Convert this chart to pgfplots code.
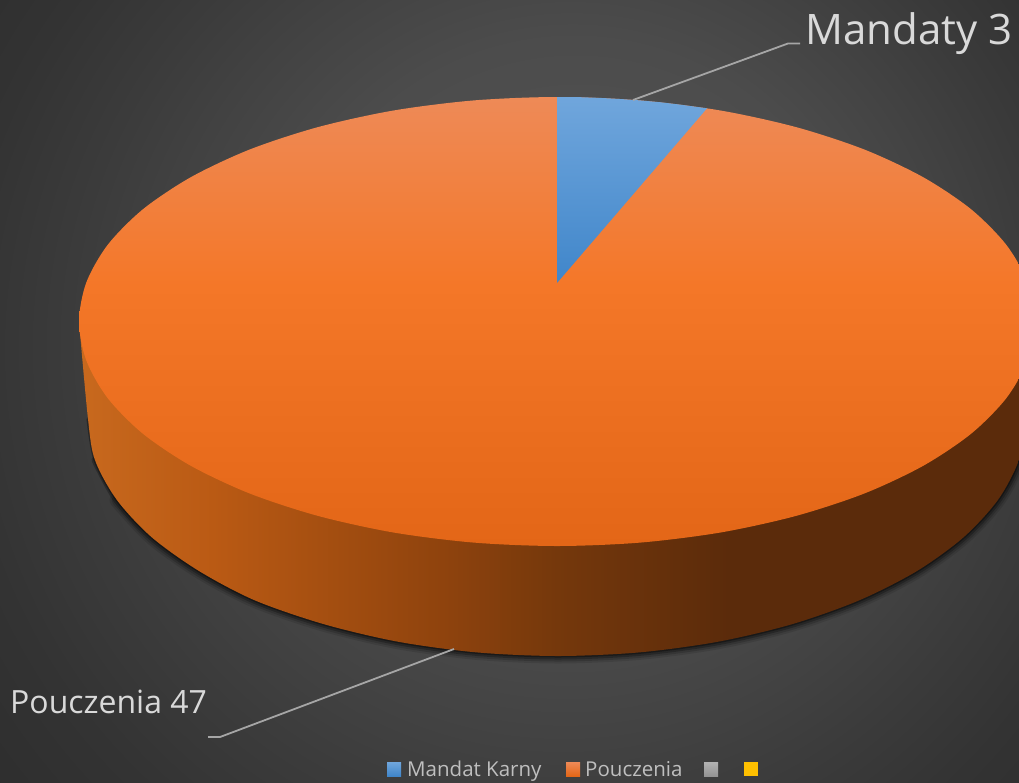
\documentclass[border=0pt]{standalone}
\usepackage{pgfplots}
\usepackage{pgfplotstable}
\usepackage{fontspec}
\setmainfont{Open Sans}
\pgfplotsset{compat=1.18}

\definecolor{labeltxt}{HTML}{D9D9D9}
\definecolor{legendtxt}{HTML}{BFBFBF}
\definecolor{leader}{HTML}{A6A6A6}
\definecolor{blueA}{HTML}{70A6DC}
\definecolor{blueB}{HTML}{4086CA}
\definecolor{greyA}{HTML}{B2B2B2}
\definecolor{greyB}{HTML}{949494}
\definecolor{goldA}{HTML}{FFC000}

\definecolor{bgA}{HTML}{555555}
\definecolor{bgB}{HTML}{4C4C4C}
\definecolor{bgC}{HTML}{424242}
\definecolor{bgD}{HTML}{3B3B3B}
\definecolor{bgE}{HTML}{333333}
\definecolor{bgF}{HTML}{2D2D2D}
\pgfdeclareradialshading{bgshade}{\pgfpoint{4.4bp}{4.4bp}}{
  color(0bp)=(bgA); color(14bp)=(bgB); color(20bp)=(bgC);
  color(24bp)=(bgD); color(29bp)=(bgE); color(35bp)=(bgF); color(50bp)=(bgF)}

\definecolor{topA}{HTML}{E36617}
\definecolor{topB}{HTML}{F47728}
\definecolor{topC}{HTML}{EE8A57}
\pgfdeclareverticalshading{topshade}{100bp}{
  color(0bp)=(topA); color(25bp)=(topA); color(54bp)=(topB);
  color(75bp)=(topC); color(100bp)=(topC)}

\definecolor{wallA}{HTML}{C8691E}
\definecolor{wallB}{HTML}{BA5A14}
\definecolor{wallC}{HTML}{8F430D}
\definecolor{wallD}{HTML}{75380C}
\definecolor{wallE}{HTML}{5B2B0B}
\pgfdeclarehorizontalshading{wallshade}{100bp}{
  color(0bp)=(wallA); color(25bp)=(wallA); color(32bp)=(wallB);
  color(44bp)=(wallC); color(50bp)=(wallD); color(59bp)=(wallE);
  color(100bp)=(wallE)}

% values: Mandaty 3, Pouczenia 47 (pixel coordinates of the 3D pie)
\pgfplotstableread{
x y
1035 321.5
1027.7 360.5
1006.2 398.3
971 433.8
923.2 465.8
864.3 493.5
796 515.9
720.5 532.5
640 542.6
557 546
474 542.6
393.5 532.5
318 515.9
249.7 493.5
190.8 465.8
143 433.8
107.8 398.3
86.3 360.5
79 321.5
86.3 282.5
107.8 244.7
143 209.2
190.8 177.2
249.7 149.5
318 127.1
393.5 110.5
474 100.4
557 97
640 100.4
720.5 110.5
796 127.1
864.3 149.5
923.2 177.2
971 209.2
1006.2 244.7
1027.7 282.5
1035 321.5
}\toprim

\pgfplotstableread{
x y
88 419
95 460.1
117 500.1
152 537.5
199.5 571.3
255.2 600.5
324 624.2
397.9 641.7
476.8 652.4
558 656
639.2 652.4
718.1 641.7
792 624.2
858.8 600.5
916.5 571.3
963.3 537.5
997.8 500.1
1018.9 460.1
1026 419
}\rim

\pgfplotstableread{
x y
79 321.5
88 419
95 460.1
117 500.1
152 537.5
199.5 571.3
255.2 600.5
324 624.2
397.9 641.7
476.8 652.4
558 656
639.2 652.4
718.1 641.7
792 624.2
858.8 600.5
916.5 571.3
963.3 537.5
997.8 500.1
1018.9 460.1
1026 419
1035 321.5
}\wall

\begin{document}
\begin{tikzpicture}
\begin{axis}[
  scale only axis,
  width=1019pt, height=782pt,
  xmin=0, xmax=1019, ymin=0, ymax=782,
  y dir=reverse,
  hide axis,
  enlargelimits=false,
]
% background, square so that the radial shading stays round
\addplot[draw=none, shade, shading=bgshade] coordinates {(0,-119) (1019,-119) (1019,901) (0,901)} -- cycle;

% soft shadow under the rim
\addplot[smooth, black, opacity=.10, line width=15pt, line cap=round, skip coords between index={0}{2}] table[x=x,y=y] {\rim};
\addplot[smooth, black, opacity=.16, line width=11pt, line cap=round, skip coords between index={0}{2}] table[x=x,y=y] {\rim};
\addplot[smooth, black, opacity=.25, line width=7pt, line cap=round, skip coords between index={0}{1}] table[x=x,y=y] {\rim};
\addplot[smooth, black, opacity=.35, line width=3pt, line cap=round] table[x=x,y=y] {\rim};

% side wall and top face
\addplot[smooth, draw=none, shade, shading=wallshade] table[x=x,y=y] {\wall} -- cycle;
\addplot[smooth, draw=none, shade, shading=topshade] table[x=x,y=y] {\toprim} -- cycle;

% Mandaty slice
\addplot[draw=none, shade, top color=blueA, bottom color=blueB]
  coordinates {(557,283) (557,97) (580,97.2) (600,97.9) (620,99) (640,100.4) (660,102.2) (680,104.6) (707,108.3)} -- cycle;

% leader lines
\addplot[leader, line width=1.8pt] coordinates {(633,100) (788,43.5) (800,43.5)};
\addplot[leader, line width=1.8pt] coordinates {(454,649) (220,737) (208,737)};

% legend keys
\addplot[draw=none, shade, top color=blueA, bottom color=blueB]
  coordinates {(387,762) (401,762) (401,776) (387,776)} -- cycle;
\addplot[draw=none, shade, top color=topC, bottom color=topA]
  coordinates {(566,762) (580,762) (580,776) (566,776)} -- cycle;
\addplot[draw=none, shade, top color=greyA, bottom color=greyB]
  coordinates {(704,762) (718,762) (718,776) (704,776)} -- cycle;
\addplot[draw=none, fill=goldA]
  coordinates {(744,762) (758,762) (758,776) (744,776)} -- cycle;

\node[anchor=base west, inner sep=0pt, text=labeltxt, font=\fontsize{42}{50}\selectfont] at (axis cs:805,44) {Mandaty 3};
\node[anchor=base west, inner sep=0pt, text=labeltxt, font=\fontsize{32}{40}\selectfont] at (axis cs:10,713) {Pouczenia 47};
\node[anchor=base west, inner sep=0pt, text=legendtxt, font=\fontsize{20.5}{24}\selectfont] at (axis cs:407,776) {Mandat Karny};
\node[anchor=base west, inner sep=0pt, text=legendtxt, font=\fontsize{20.5}{24}\selectfont] at (axis cs:585,776) {Pouczenia};
\end{axis}
\end{tikzpicture}
\end{document}
